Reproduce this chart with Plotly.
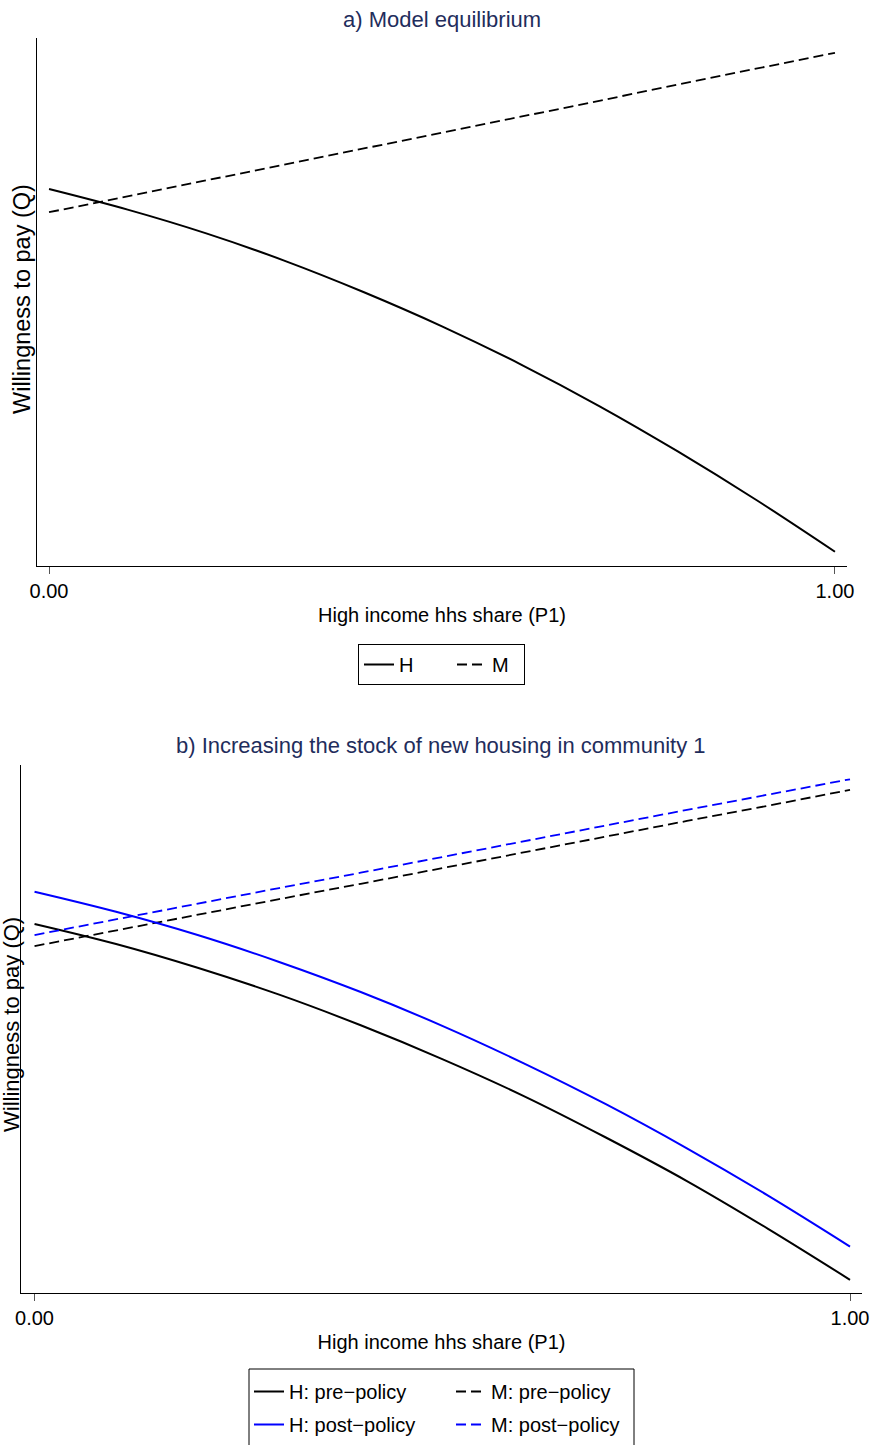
import plotly.graph_objects as go

# ---------------- data ----------------
P1 = [0.0, 0.1, 0.2, 0.3, 0.4, 0.5, 0.6, 0.7, 0.8, 0.9, 1.0]

# Panel a) Model equilibrium
H_a = [7.14, 6.75, 6.30, 5.78, 5.19, 4.54, 3.82, 3.03, 2.17, 1.25, 0.27]
M_a = [6.70, 7.00, 7.30, 7.61, 7.91, 8.21, 8.51, 8.81, 9.12, 9.42, 9.72]

# Panel b) Increasing the stock of new housing in community 1
H_pre = [6.99, 6.61, 6.16, 5.65, 5.07, 4.43, 3.73, 2.95, 2.12, 1.21, 0.25]
H_post = [7.60, 7.22, 6.78, 6.27, 5.70, 5.06, 4.35, 3.58, 2.74, 1.84, 0.88]
M_pre = [6.57, 6.87, 7.16, 7.46, 7.75, 8.05, 8.35, 8.64, 8.94, 9.23, 9.53]
M_post = [6.78, 7.08, 7.37, 7.67, 7.96, 8.26, 8.56, 8.85, 9.15, 9.44, 9.73]

tick_vals = [0, 1]
tick_text = ["0.00", "1.00"]
x_title = "High income hhs share (P1)"
y_title = "Willingness to pay (Q)"
title_a = "a) Model equilibrium"
title_b = "b) Increasing the stock of new housing in community 1"

# ---------------- figure ----------------
W, H = 873, 1445
FONT = "Liberation Sans, Arial, Helvetica, sans-serif"
TITLE_COLOR = "#1f2d5c"
BLUE = "#0000ff"
DASH = "10px,5px"


def px_x(p):
    return p / W


def px_y(p):
    return 1 - p / H


fig = go.Figure()

# panel a
fig.add_trace(go.Scatter(x=P1, y=H_a, mode="lines", name="H",
                         line=dict(color="black", width=2, shape="spline"),
                         xaxis="x", yaxis="y", legend="legend", legendwidth=48))
fig.add_trace(go.Scatter(x=P1, y=M_a, mode="lines", name="M",
                         line=dict(color="black", width=1.8, dash=DASH),
                         xaxis="x", yaxis="y", legend="legend", legendwidth=27))

# panel b
fig.add_trace(go.Scatter(x=P1, y=H_pre, mode="lines", name="H: pre\u2212policy",
                         line=dict(color="black", width=2, shape="spline"),
                         xaxis="x2", yaxis="y2", legend="legend2", legendwidth=157))
fig.add_trace(go.Scatter(x=P1, y=M_pre, mode="lines", name="M: pre\u2212policy",
                         line=dict(color="black", width=1.8, dash=DASH),
                         xaxis="x2", yaxis="y2", legend="legend2"))
fig.add_trace(go.Scatter(x=P1, y=H_post, mode="lines", name="H: post\u2212policy",
                         line=dict(color=BLUE, width=2, shape="spline"),
                         xaxis="x2", yaxis="y2", legend="legend3", legendwidth=157))
fig.add_trace(go.Scatter(x=P1, y=M_post, mode="lines", name="M: post\u2212policy",
                         line=dict(color=BLUE, width=1.8, dash=DASH),
                         xaxis="x2", yaxis="y2", legend="legend3"))

axis_common_x = dict(
    showline=True, linecolor="black", linewidth=1,
    ticks="outside", ticklen=7, tickwidth=1, tickcolor="#555555",
    tickvals=tick_vals, ticktext=tick_text,
    tickfont=dict(family=FONT, size=20, color="black"),
    showgrid=False, zeroline=False, automargin=False,
)
axis_common_y = dict(
    showline=True, linecolor="black", linewidth=1,
    ticks="", showticklabels=False, showgrid=False, zeroline=False,
    range=[0, 10], automargin=False,
)

legend_common = dict(
    orientation="h", xanchor="left", yanchor="top",
    font=dict(family=FONT, size=20, color="black"),
    itemwidth=30, bgcolor="rgba(0,0,0,0)", traceorder="normal",
)

fig.update_layout(
    width=W, height=H,
    margin=dict(l=0, r=0, t=0, b=0, autoexpand=False),
    paper_bgcolor="white", plot_bgcolor="white",
    font=dict(family=FONT, color="black"),
    xaxis=dict(domain=[px_x(37), px_x(847)], anchor="y",
               range=[-0.0153, 1.0153],
               title=dict(text=x_title, font=dict(family=FONT, size=20), standoff=6),
               **axis_common_x),
    yaxis=dict(domain=[px_y(566), px_y(38)], anchor="x", **axis_common_y),
    xaxis2=dict(domain=[px_x(21), px_x(862)], anchor="y2",
                range=[-0.0166, 1.0147],
                title=dict(text=x_title, font=dict(family=FONT, size=20), standoff=6),
                **axis_common_x),
    yaxis2=dict(domain=[px_y(1293), px_y(765)], anchor="x2", **axis_common_y),
    legend=dict(x=px_x(358), y=px_y(644), bordercolor="black", borderwidth=1,
                entrywidth=0, **legend_common),
    legend2=dict(x=px_x(249), y=px_y(1372), borderwidth=0,
                 entrywidth=0, **legend_common),
    legend3=dict(x=px_x(249), y=px_y(1405), borderwidth=0,
                 entrywidth=0, **legend_common),
    showlegend=True,
    annotations=[
        dict(text=title_a, x=px_x(442), y=px_y(20), xref="paper", yref="paper",
             xanchor="center", yanchor="middle", showarrow=False,
             font=dict(family=FONT, size=22, color=TITLE_COLOR)),
        dict(text=title_b, x=px_x(441), y=px_y(745), xref="paper", yref="paper",
             xanchor="center", yanchor="middle", showarrow=False,
             font=dict(family=FONT, size=22, color=TITLE_COLOR)),
        dict(text=y_title, x=px_x(22), y=px_y(299), xref="paper", yref="paper",
             xanchor="center", yanchor="middle", showarrow=False, textangle=-90,
             font=dict(family=FONT, size=23.5, color="black")),
        dict(text=y_title, x=px_x(11), y=px_y(1025), xref="paper", yref="paper",
             xanchor="center", yanchor="middle", showarrow=False, textangle=-90,
             borderpad=0, font=dict(family=FONT, size=22, color="black")),
    ],
    shapes=[
        dict(type="rect", xref="paper", yref="paper",
             x0=px_x(249), x1=px_x(634), y0=px_y(1460), y1=px_y(1369),
             line=dict(color="black", width=1), fillcolor="rgba(0,0,0,0)"),
    ],
)

fig.write_html("out.html")
